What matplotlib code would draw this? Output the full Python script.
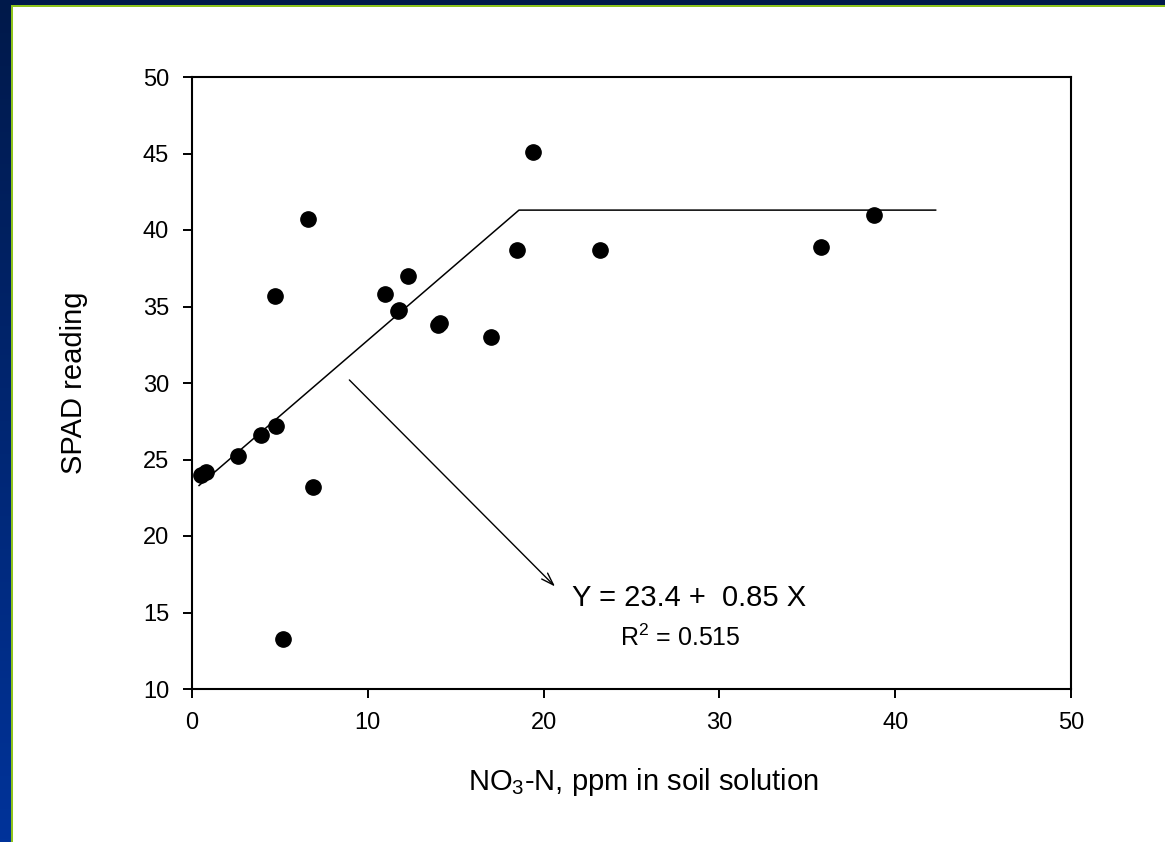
import numpy as np
import matplotlib
matplotlib.use('Agg')
import matplotlib.pyplot as plt
from matplotlib.patches import Rectangle

plt.rcParams['font.family'] = ['Liberation Sans', 'DejaVu Sans']
plt.rcParams['mathtext.fontset'] = 'custom'
plt.rcParams['mathtext.rm'] = 'Liberation Sans'

# observations (NO3-N ppm, SPAD reading)
no3 = [0.5, 0.8, 2.6, 3.9, 4.8, 4.7, 5.2, 6.6, 6.9, 11.0, 11.7, 11.8,
       12.3, 14.0, 14.1, 17.0, 18.5, 19.4, 23.2, 35.8, 38.8]
spad = [24.0, 24.2, 25.2, 26.6, 27.2, 35.7, 13.3, 40.7, 23.2, 35.8, 34.7, 34.8,
        37.0, 33.8, 33.9, 33.0, 38.7, 45.1, 38.7, 38.9, 41.0]

# linear-plateau fit line as drawn
fit_x = [0.4, 18.6, 42.3]
fit_y = [23.3, 41.3, 41.3]

eq_text = 'Y = 23.4 +  0.85 X'
r2_text = r'R$^\mathregular{2}$ = 0.515'

fig = plt.figure(figsize=(11.65, 8.42), dpi=100)
W, H = 1165, 842

# slide background: dark blue gradient with white panel and lime border
bg = fig.add_axes([0, 0, 1, 1], zorder=-10)
grad = np.linspace(0, 1, 256).reshape(-1, 1)
cmap = matplotlib.colors.LinearSegmentedColormap.from_list('bg', ['#00194a', '#00339a'])
bg.imshow(grad, aspect='auto', cmap=cmap, extent=[0, 1, 0, 1], origin='upper')
bg.add_patch(Rectangle((11 / W, 0), 1, 1 - 5 / H, color='#8ec31c', lw=0))
bg.add_patch(Rectangle((13 / W, 0), 1, 1 - 7 / H, color='white', lw=0))
bg.set_xlim(0, 1)
bg.set_ylim(0, 1)
bg.axis('off')

ax = fig.add_axes([192 / W, 1 - 689 / H, 879 / W, 612 / H])
ax.plot(fit_x, fit_y, color='black', lw=1.1)
ax.plot(no3, spad, 'o', color='black', ms=11, mec='black')

ax.annotate('', xy=(20.65, 16.7), xytext=(8.95, 30.2),
            arrowprops=dict(arrowstyle='->, head_length=0.9, head_width=0.3',
                            color='black', lw=1.0, shrinkA=0, shrinkB=0))
ax.text(21.6, 15.95, eq_text, fontsize=21, ha='left', va='center')
ax.text(27.8, 13.35, r2_text, fontsize=18, ha='center', va='center')

ax.set_xlim(0, 50)
ax.set_ylim(10, 50)
ax.set_xticks(range(0, 51, 10))
ax.set_yticks(range(10, 51, 5))
ax.tick_params(direction='out', length=6.5, width=1.4, labelsize=17, pad=10,
               top=False, right=False)
for s in ax.spines.values():
    s.set_linewidth(1.5)

ax.set_ylabel('SPAD reading', fontsize=21)
ax.yaxis.set_label_coords(-0.118, 0.5)
ax.set_xlabel(r'NO$_\mathregular{3}$-N, ppm in soil solution', fontsize=21, va='top')
ax.xaxis.set_label_coords(0.514, -0.125)

fig.savefig('out.png', dpi=100)
